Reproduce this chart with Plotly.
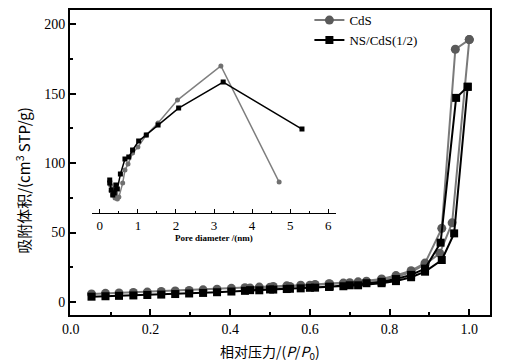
import plotly.graph_objects as go

# ---- main isotherm data (P/P0, adsorbed volume) ----
cds_ads_p = [0.052, 0.087, 0.121, 0.157, 0.192, 0.227, 0.262, 0.297, 0.332, 0.367, 0.403,
             0.437, 0.473, 0.508, 0.542, 0.577, 0.613, 0.648, 0.684, 0.721, 0.780, 0.816,
             0.854, 0.889, 0.926, 0.957, 1.000]
cds_ads_v = [5.8, 6.2, 6.5, 6.8, 7.1, 7.5, 7.9, 8.3, 8.7, 9.2, 9.8,
             10.3, 10.7, 11.2, 11.6, 12.1, 12.6, 13.1, 13.6, 14.5, 16.0, 18.0,
             21.5, 27.0, 35.0, 57.0, 189.0]
cds_des_p = [1.000, 0.965, 0.931, 0.889, 0.854, 0.816, 0.780, 0.742, 0.700, 0.650, 0.600,
             0.550, 0.500, 0.450]
cds_des_v = [189.0, 182.0, 53.0, 28.0, 22.5, 19.0, 16.5, 15.0, 13.8, 12.9, 12.0,
             11.2, 10.6, 10.0]

ns_ads_p = [0.052, 0.087, 0.121, 0.157, 0.192, 0.227, 0.262, 0.297, 0.332, 0.367, 0.403,
            0.437, 0.473, 0.508, 0.542, 0.577, 0.613, 0.648, 0.684, 0.721, 0.780, 0.816,
            0.854, 0.889, 0.931, 0.962, 0.996]
ns_ads_v = [3.8, 4.1, 4.4, 4.7, 5.0, 5.3, 5.7, 6.1, 6.5, 7.0, 7.5,
            8.0, 8.4, 8.9, 9.3, 9.8, 10.3, 10.8, 11.3, 12.0, 13.5, 15.0,
            17.8, 21.8, 30.2, 49.4, 155.0]
ns_des_p = [0.996, 0.967, 0.928, 0.889, 0.854, 0.816, 0.780, 0.742, 0.700, 0.650, 0.600,
            0.550, 0.500, 0.450]
ns_des_v = [155.0, 147.0, 42.7, 24.0, 19.5, 16.5, 14.5, 13.5, 12.0, 11.0, 10.2,
            9.5, 9.0, 8.5]

# ---- inset pore size distribution (pore diameter nm, relative value) ----
cds_pore_d = [0.28, 0.34, 0.30, 0.40, 0.36, 0.46, 0.42, 0.50, 0.60, 0.66, 0.74, 0.86,
              1.00, 1.22, 1.53, 2.04, 3.18, 4.71]
cds_pore_v = [28, 18, 22, 15, 24, 14, 20, 16, 30, 43, 49, 60,
              66, 78, 90, 113, 147, 31]
ns_pore_d = [0.26, 0.30, 0.26, 0.34, 0.42, 0.38, 0.46, 0.54, 0.66, 0.76, 0.86, 1.02,
             1.22, 1.53, 2.07, 3.24, 5.31]
ns_pore_v = [33, 23, 30, 18, 28, 20, 24, 39, 54, 56, 63, 72,
             78, 88, 105, 131, 84]

x_ticks = [0.0, 0.2, 0.4, 0.6, 0.8, 1.0]
x_tick_labels = ["0.0", "0.2", "0.4", "0.6", "0.8", "1.0"]
y_ticks = [0, 50, 100, 150, 200]
inset_ticks = [0, 1, 2, 3, 4, 5, 6]

GRAY = "#5a5a5a"
GRAY_LINE = "#7a7a7a"
SERIF = "Liberation Serif, Times New Roman, serif"
CJK = "Noto Sans CJK SC, Liberation Serif, serif"

fig = go.Figure()

fig.add_trace(go.Scatter(
    x=cds_ads_p + cds_des_p, y=cds_ads_v + cds_des_v, name="CdS",
    mode="lines+markers",
    line=dict(color=GRAY_LINE, width=2),
    marker=dict(symbol="circle", size=9, color=GRAY),
))
fig.add_trace(go.Scatter(
    x=ns_ads_p + ns_des_p, y=ns_ads_v + ns_des_v, name="NS/CdS(1/2)",
    mode="lines+markers",
    line=dict(color="#000000", width=2),
    marker=dict(symbol="square", size=8, color="#000000"),
))

# inset
fig.add_trace(go.Scatter(
    x=cds_pore_d, y=cds_pore_v, xaxis="x2", yaxis="y2", showlegend=False,
    mode="lines+markers",
    line=dict(color="#808080", width=1.5),
    marker=dict(symbol="circle", size=5, color="#707070"),
))
fig.add_trace(go.Scatter(
    x=ns_pore_d, y=ns_pore_v, xaxis="x2", yaxis="y2", showlegend=False,
    mode="lines+markers",
    line=dict(color="#000000", width=1.5),
    marker=dict(symbol="square", size=5, color="#000000"),
))

axis_common = dict(showline=True, linecolor="black", linewidth=2, mirror=True,
                   showgrid=False, zeroline=False, ticks="inside", tickcolor="black",
                   tickwidth=1.5, ticklen=6,
                   tickfont=dict(family=SERIF, size=14, color="black"))

# page body has an 8px margin, so the figure is sized to end at the window edge
fig.update_layout(
    width=498, height=355,
    margin=dict(l=62, r=16, t=2, b=48, autoexpand=False),
    paper_bgcolor="white", plot_bgcolor="white",
    xaxis=dict(range=[-0.002, 1.052], tickvals=x_ticks, ticktext=x_tick_labels,
               minor=dict(dtick=0.1, ticks="inside", ticklen=3, tickcolor="black"),
               **axis_common),
    yaxis=dict(range=[-9.4, 210.3], tickvals=y_ticks,
               minor=dict(dtick=25, ticks="inside", ticklen=3, tickcolor="black"),
               **axis_common),
    xaxis2=dict(domain=[0.052, 0.633], anchor="y2", range=[-0.21, 6.2],
                tickvals=inset_ticks, showline=True, linecolor="black", linewidth=1,
                showgrid=False, zeroline=False, ticks="inside", ticklen=4,
                tickcolor="black",
                minor=dict(dtick=0.5, ticks="inside", ticklen=2, tickcolor="black"),
                tickfont=dict(family=SERIF, size=13, color="black"),
                title=dict(text="<b>Pore diameter /(nm)</b>",
                           font=dict(family=SERIF, size=9, color="black"), standoff=0)),
    yaxis2=dict(domain=[0.334, 0.836], anchor="x2", range=[0, 153], visible=False),
    legend=dict(x=0.57, y=1.016, xanchor="left", yanchor="top",
                bgcolor="rgba(0,0,0,0)", font=dict(family=SERIF, size=13, color="black"),
                tracegroupgap=0, itemwidth=30),
    showlegend=True,
    annotations=[
        dict(text="相对压力/(<i>P</i>/<i>P</i><sub>0</sub>)", xref="paper", yref="paper",
             x=0.477, y=-0.122, xanchor="center", yanchor="middle", showarrow=False,
             font=dict(family=CJK, size=14, color="black")),
        dict(text="吸附体积/(cm<sup>3</sup> STP/g)", xref="paper", yref="paper",
             x=-0.112, y=0.443, xanchor="center", yanchor="middle", showarrow=False,
             textangle=-90, font=dict(family=CJK, size=15, color="black")),
    ],
)

fig.write_html("out.html")
